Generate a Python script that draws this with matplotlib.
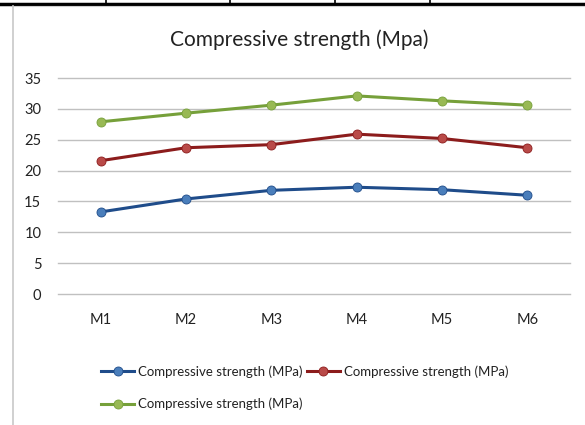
import matplotlib
matplotlib.use("Agg")
import matplotlib.pyplot as plt
from matplotlib.lines import Line2D

categories = ["M1", "M2", "M3", "M4", "M5", "M6"]
series_blue = [13.3, 15.4, 16.8, 17.3, 16.9, 16.0]
series_red = [21.6, 23.7, 24.2, 25.9, 25.2, 23.7]
series_green = [27.9, 29.3, 30.6, 32.1, 31.3, 30.6]
labels = ["Compressive strength (MPa)"] * 3
title = "Compressive strength (Mpa)"
yticks = [0, 5, 10, 15, 20, 25, 30, 35]

plt.rcParams['font.family'] = ['Lato', 'DejaVu Sans']

W, H = 585, 425
fig = plt.figure(figsize=(W / 100, H / 100), dpi=100)
fig.patch.set_facecolor("white")

# page decorations: table border at top and chart frame at left
fig.add_artist(Line2D([0, 1], [1 - 3.5 / H, 1 - 3.5 / H], color="black", lw=2.5, transform=fig.transFigure))
fig.add_artist(Line2D([0.02, 1], [1 - 5.5 / H, 1 - 5.5 / H], color="#D0D0D0", lw=0.8, transform=fig.transFigure))
for xv in [106, 230, 335, 430]:
    fig.add_artist(Line2D([xv / W, xv / W], [1 - 3.5 / H, 1.0], color="black", lw=1.2, transform=fig.transFigure))
fig.add_artist(Line2D([12.5 / W, 12.5 / W], [0, 1 - 5.5 / H], color="#C8C8C8", lw=1.2, transform=fig.transFigure))

left, right = 58 / W, 570 / W
bottom, top = (H - 294) / H, (H - 78) / H
ax = fig.add_axes([left, bottom, right - left, top - bottom])

x = list(range(len(categories)))
styles = [
    (series_blue, "#1F4C8A", "#4A7EBB"),
    (series_red, "#8C1C1C", "#B94A48"),
    (series_green, "#76A03A", "#98B954"),
]
handles = []
for (vals, lc, mc), lab in zip(styles, labels):
    h, = ax.plot(x, vals, color=lc, lw=2.2, marker="o", markersize=6.5,
                 markerfacecolor=mc, markeredgecolor=lc, markeredgewidth=0.6, label=lab, zorder=3)
    handles.append(h)

ax.set_xlim(-0.5, len(categories) - 0.5)
ax.set_ylim(0, 35)
ax.set_yticks(yticks)
ax.set_xticks(x)
ax.set_xticklabels(categories)
ax.yaxis.grid(True, color="#C0C0C0", lw=1.0)
for gl in ax.get_ygridlines():
    gl.set_clip_on(False)
ax.set_axisbelow(True)
for s in ax.spines.values():
    s.set_visible(False)
ax.tick_params(axis="both", length=0, labelsize=10.5, colors="#222222")
ax.tick_params(axis="y", pad=12)
ax.tick_params(axis="x", pad=14)

fig.text(299 / W, 1 - 40 / H, title, ha="center", va="center", fontsize=15, color="#222222")

# row-major order: blue, red on first row; green on second
order = [0, 2, 1]
leg = fig.legend([handles[i] for i in order], [labels[i] for i in order],
                 loc="upper left", bbox_to_anchor=(96 / W, 1 - 360 / H), ncol=2, frameon=False,
                 fontsize=9.5, handlelength=2.5, handletextpad=0.3, columnspacing=0.3,
                 labelspacing=1.5, borderaxespad=0)
for t in leg.get_texts():
    t.set_color("#222222")

fig.savefig("out.png", dpi=100)
